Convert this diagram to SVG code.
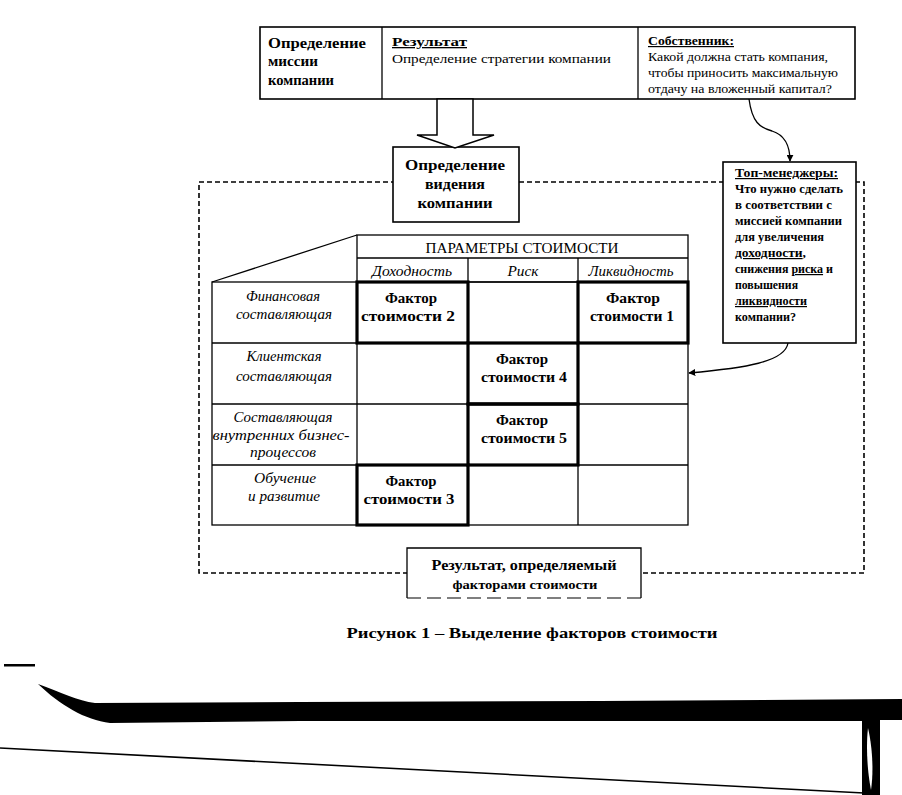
<svg xmlns="http://www.w3.org/2000/svg" width="902" height="795" viewBox="0 0 902 795">
<defs>
<style>
.t{font-family:"Liberation Serif","Times New Roman",serif;fill:#000}
.b{font-weight:bold}
.i{font-style:italic}
.box{fill:#fff;stroke:#000;stroke-width:1.6}
.ln{stroke:#000;stroke-width:1.3;fill:none}
.thick{fill:none;stroke:#000;stroke-width:3.2}
.dash{fill:none;stroke:#000;stroke-width:1.6;stroke-dasharray:5 3}
.u{text-decoration:underline}
</style>
<marker id="ah" viewBox="0 0 10 10" refX="9" refY="5" markerWidth="7" markerHeight="7" orient="auto-start-reverse" markerUnits="userSpaceOnUse">
<path d="M0,0 L10,5 L0,10 z" fill="#000"/>
</marker>
</defs>
<rect width="902" height="795" fill="#fff"/>

<g id="boundary">
<rect x="199" y="182" width="665" height="391" class="dash"/>
</g>

<g id="node-mission">
<rect x="260" y="27" width="595" height="72" class="box"/>
<line x1="382" y1="27" x2="382" y2="99" class="ln"/>
<line x1="638" y1="27" x2="638" y2="99" class="ln"/>
<text class="t b" font-size="15" x="268" y="48" textLength="98" lengthAdjust="spacingAndGlyphs">Определение</text>
<text class="t b" font-size="15" x="268" y="66" textLength="50" lengthAdjust="spacingAndGlyphs">миссии</text>
<text class="t b" font-size="15" x="268" y="85" textLength="66" lengthAdjust="spacingAndGlyphs">компании</text>
<text class="t b u" font-size="13" x="392" y="46" textLength="75" lengthAdjust="spacingAndGlyphs">Результат</text>
<text class="t" font-size="13" x="392" y="63" textLength="219" lengthAdjust="spacingAndGlyphs">Определение стратегии компании</text>
<text class="t b u" font-size="12" x="648" y="45" textLength="86" lengthAdjust="spacingAndGlyphs">Собственник:</text>
<text class="t" font-size="12" x="648" y="61" textLength="180" lengthAdjust="spacingAndGlyphs">Какой должна стать компания,</text>
<text class="t" font-size="12" x="648" y="77" textLength="190" lengthAdjust="spacingAndGlyphs">чтобы приносить максимальную</text>
<text class="t" font-size="12" x="648" y="93" textLength="184" lengthAdjust="spacingAndGlyphs">отдачу на вложенный капитал?</text>
</g>

<g id="node-vision">
<rect x="393" y="147" width="126" height="75" class="box"/>
<text class="t b" font-size="15" x="455" y="170" text-anchor="middle" textLength="100" lengthAdjust="spacingAndGlyphs">Определение</text>
<text class="t b" font-size="15" x="455" y="189" text-anchor="middle" textLength="60" lengthAdjust="spacingAndGlyphs">видения</text>
<text class="t b" font-size="15" x="455" y="208" text-anchor="middle" textLength="75" lengthAdjust="spacingAndGlyphs">компании</text>
</g>

<g id="node-topmanagers">
<rect x="723" y="162" width="133" height="181" class="box"/>
<g class="t b" font-size="12">
<text class="u" x="735" y="177" textLength="103" lengthAdjust="spacingAndGlyphs">Топ-менеджеры:</text>
<text x="735" y="193" textLength="108" lengthAdjust="spacingAndGlyphs">Что нужно сделать</text>
<text x="735" y="209" textLength="97" lengthAdjust="spacingAndGlyphs">в соответствии с</text>
<text x="735" y="225" textLength="107" lengthAdjust="spacingAndGlyphs">миссией компании</text>
<text x="735" y="241" textLength="89" lengthAdjust="spacingAndGlyphs">для увеличения</text>
<text x="735" y="257" textLength="71" lengthAdjust="spacingAndGlyphs"><tspan class="u">доходности</tspan>,</text>
<text x="735" y="273" textLength="98" lengthAdjust="spacingAndGlyphs">снижения <tspan class="u">риска</tspan> и</text>
<text x="735" y="289" textLength="63" lengthAdjust="spacingAndGlyphs">повышения</text>
<text class="u" x="735" y="305" textLength="72" lengthAdjust="spacingAndGlyphs">ликвидности</text>
<text x="735" y="321" textLength="61" lengthAdjust="spacingAndGlyphs">компании?</text>
</g>
</g>

<g id="node-grid">
<rect x="357" y="235" width="331" height="47" fill="#fff" class="ln"/>
<line x1="357" y1="258" x2="688" y2="258" class="ln"/>
<line x1="468" y1="258" x2="468" y2="525" class="ln"/>
<line x1="578" y1="258" x2="578" y2="525" class="ln"/>
<line x1="357" y1="235" x2="212" y2="282" class="ln"/>
<rect x="212" y="282" width="476" height="243" class="ln"/>
<line x1="357" y1="282" x2="357" y2="525" class="ln"/>
<line x1="212" y1="343" x2="688" y2="343" class="ln"/>
<line x1="212" y1="404" x2="688" y2="404" class="ln"/>
<line x1="212" y1="465" x2="688" y2="465" class="ln"/>
<text class="t" font-size="14" x="522" y="253" text-anchor="middle" textLength="193" lengthAdjust="spacingAndGlyphs">ПАРАМЕТРЫ СТОИМОСТИ</text>
<g class="t i" font-size="14" text-anchor="middle">
<text x="412" y="276" textLength="80" lengthAdjust="spacingAndGlyphs">Доходность</text>
<text x="523" y="276" textLength="31" lengthAdjust="spacingAndGlyphs">Риск</text>
<text x="631" y="276" textLength="85" lengthAdjust="spacingAndGlyphs">Ликвидность</text>
<text x="283" y="301" textLength="74" lengthAdjust="spacingAndGlyphs">Финансовая</text>
<text x="284" y="319" textLength="96" lengthAdjust="spacingAndGlyphs">составляющая</text>
<text x="284" y="361" textLength="75" lengthAdjust="spacingAndGlyphs">Клиентская</text>
<text x="284" y="381" textLength="96" lengthAdjust="spacingAndGlyphs">составляющая</text>
<text x="283" y="422" textLength="99" lengthAdjust="spacingAndGlyphs">Составляющая</text>
<text x="281" y="440" textLength="137" lengthAdjust="spacingAndGlyphs">внутренних бизнес-</text>
<text x="283" y="457" textLength="66" lengthAdjust="spacingAndGlyphs">процессов</text>
<text x="285" y="483" textLength="62" lengthAdjust="spacingAndGlyphs">Обучение</text>
<text x="284" y="501" textLength="72" lengthAdjust="spacingAndGlyphs">и развитие</text>
</g>
</g>

<g id="node-factor2">
<rect x="357" y="282" width="111" height="61" class="thick"/>
<text class="t b" font-size="14" x="411" y="303" text-anchor="middle" textLength="52" lengthAdjust="spacingAndGlyphs">Фактор</text>
<text class="t b" font-size="14" x="408" y="321" text-anchor="middle" textLength="94" lengthAdjust="spacingAndGlyphs">стоимости 2</text>
</g>
<g id="node-factor1">
<rect x="578" y="282" width="110" height="61" class="thick"/>
<text class="t b" font-size="14" x="633" y="303" text-anchor="middle" textLength="54" lengthAdjust="spacingAndGlyphs">Фактор</text>
<text class="t b" font-size="14" x="632" y="321" text-anchor="middle" textLength="84" lengthAdjust="spacingAndGlyphs">стоимости 1</text>
</g>
<g id="node-factor4">
<rect x="468" y="343" width="110" height="61" class="thick" stroke-width="2"/>
<text class="t b" font-size="14" x="522" y="364" text-anchor="middle" textLength="52" lengthAdjust="spacingAndGlyphs">Фактор</text>
<text class="t b" font-size="14" x="524" y="382" text-anchor="middle" textLength="86" lengthAdjust="spacingAndGlyphs">стоимости 4</text>
</g>
<g id="node-factor5">
<rect x="468" y="404" width="110" height="61" class="thick"/>
<text class="t b" font-size="14" x="522" y="425" text-anchor="middle" textLength="52" lengthAdjust="spacingAndGlyphs">Фактор</text>
<text class="t b" font-size="14" x="524" y="443" text-anchor="middle" textLength="86" lengthAdjust="spacingAndGlyphs">стоимости 5</text>
</g>
<g id="node-factor3">
<rect x="357" y="465" width="111" height="60" class="thick"/>
<text class="t b" font-size="14" x="411" y="486" text-anchor="middle" textLength="51" lengthAdjust="spacingAndGlyphs">Фактор</text>
<text class="t b" font-size="14" x="409" y="504" text-anchor="middle" textLength="91" lengthAdjust="spacingAndGlyphs">стоимости 3</text>
</g>

<g id="node-result">
<rect x="407" y="548" width="234" height="50" fill="#fff"/>
<path d="M407,598 V548 H641 V598" class="ln" stroke-width="1.6"/>
<line x1="407" y1="598" x2="641" y2="598" stroke="#000" stroke-width="1.2" stroke-dasharray="14 6"/>
<text class="t b" font-size="14" x="524" y="570" text-anchor="middle" textLength="185" lengthAdjust="spacingAndGlyphs">Результат, определяемый</text>
<text class="t b" font-size="13" x="525" y="589" text-anchor="middle" textLength="145" lengthAdjust="spacingAndGlyphs">факторами стоимости</text>
</g>

<g id="connectors">
<polygon points="437,99 473,99 473,135 494,135 455,148 417,135 437,135" fill="#fff" stroke="#000" stroke-width="1.5" stroke-linejoin="miter"/>
<path d="M749,99 C752,122 760,128 772,131 C785,135 790,145 790,161" class="ln" stroke-width="1.6" marker-end="url(#ah)"/>
<path d="M788,343 C785,362 745,368 689,373" class="ln" stroke-width="1.6" marker-end="url(#ah)"/>
</g>

<text id="caption" class="t b" font-size="15" x="532" y="638" text-anchor="middle" textLength="371" lengthAdjust="spacingAndGlyphs">Рисунок 1 – Выделение факторов стоимости</text>

<g id="scan-edge">
<rect x="4" y="664" width="31" height="2.5" fill="#000"/>
<path d="M38,684 C60,692 78,701 95,703 L300,702 L600,701 L902,699 L902,720 L880,720 L880,795 L862,795 L862,721 L300,721 L110,723 C85,720 60,705 38,684 z" fill="#000"/>
<path d="M868,728 C872,745 874,770 871,790 C867,770 866,745 868,728 z" fill="#fff"/>
<line x1="0" y1="748" x2="864" y2="793" stroke="#000" stroke-width="1.6"/>
</g>
</svg>
